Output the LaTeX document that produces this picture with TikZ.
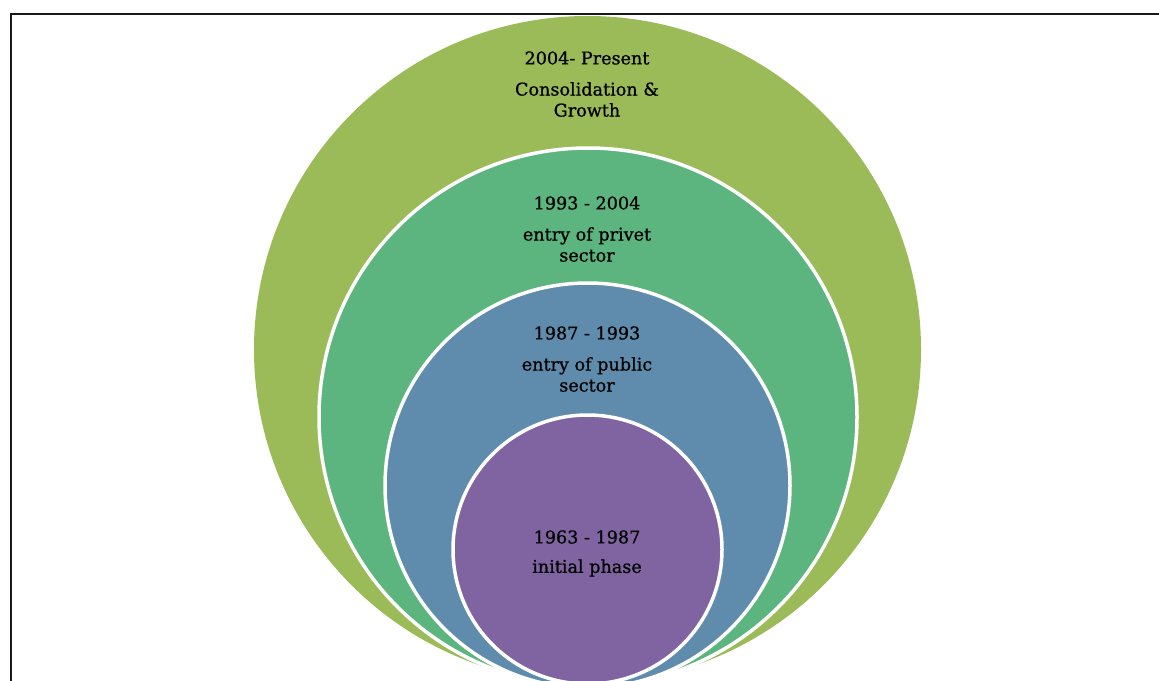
\documentclass[tikz,border=0pt]{standalone}
\usepackage{fontspec}
\setmainfont{DejaVu Serif}
\newfontfamily\phasefont{DejaVu Serif}[FakeBold=0.8]
\definecolor{ringolive}{HTML}{9BBB59}
\definecolor{ringteal}{HTML}{5CB47E}
\definecolor{ringblue}{HTML}{5F8CAD}
\definecolor{ringpurple}{HTML}{8064A1}
\tikzset{
  ring/.style={circle, inner sep=0pt, draw=white, line width=3.5pt, fill=#1},
  phase/.style={align=center, text=black, font=\phasefont\fontsize{17.6pt}{21pt}\selectfont, inner sep=0pt}
}
\begin{document}
\begin{tikzpicture}[x=1pt, y=-1pt]
  \useasboundingbox (0,0) rectangle (1159,680);
  \clip (0,0) rectangle (1159,680);
  \fill[white] (0,0) rectangle (1159,680);
  % frame
  \draw[line width=2pt, black!90] (10.5,13.5) rectangle (1175,700);
  % nested phases
  \node[ring=ringolive, draw=none, minimum size=667pt] (outer) at (587.5,349.5) {};
  \node[ring=ringteal, minimum size=538pt] (second) at (588,417) {};
  \node[ring=ringblue, minimum size=405pt] (third) at (587.5,485.5) {};
  \node[ring=ringpurple, minimum size=269pt] (inner) at (587.5,549.5) {};
  % labels
  \node[phase] (t1) at (587,58) {2004- Present};
  \node[phase] (b1) at (587,99.5) {Consolidation \&\\Growth};
  \node[phase] (t2) at (587,203) {1993 - 2004};
  \node[phase] (b2) at (587,244.5) {entry of privet\\sector};
  \node[phase] (t3) at (587,333) {1987 - 1993};
  \node[phase] (b3) at (587,374.5) {entry of public\\sector};
  \node[phase] (t4) at (587,537) {1963 - 1987};
  \node[phase] (b4) at (587,568) {initial phase};
\end{tikzpicture}
\end{document}
